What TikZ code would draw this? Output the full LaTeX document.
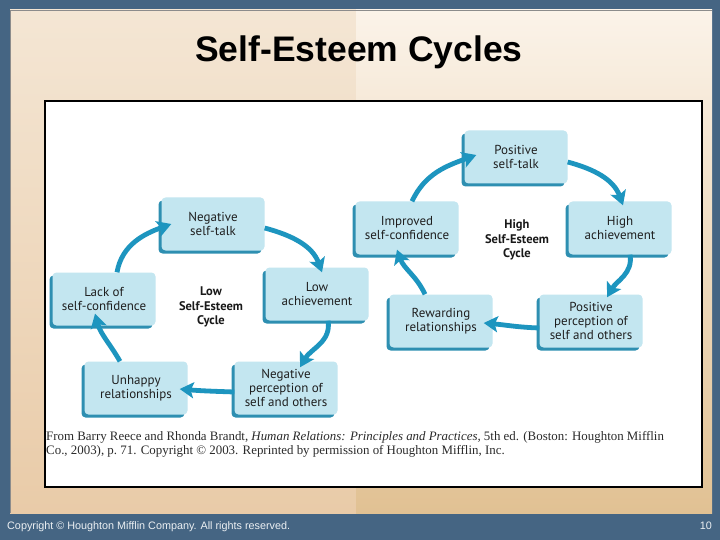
\documentclass[tikz,border=0pt]{standalone}
\usepackage{fontspec}
\setmainfont{Liberation Serif}
\newfontfamily\boxfont{PT Sans}
\newfontfamily\arialfont{Liberation Sans}
\usetikzlibrary{arrows.meta,shadows}
\definecolor{outerblue}{HTML}{456583}
\definecolor{tlc}{HTML}{F4E6D4}
\definecolor{blc}{HTML}{E9CBA8}
\definecolor{trc}{HTML}{FBF3E9}
\definecolor{brc}{HTML}{E1C193}
\definecolor{boxfill}{HTML}{C3E6F0}
\definecolor{boxshadow}{HTML}{2E8FB1}
\definecolor{arrowteal}{HTML}{1D95BF}
\definecolor{captext}{HTML}{2A2A2A}
\tikzset{
  cbox/.style={rounded corners=4pt, fill=boxfill, minimum width=103pt, minimum height=53pt,
    align=center, inner sep=1pt, text=black!88,
    font=\boxfont\fontsize{13}{14}\selectfont,
    drop shadow={shadow xshift=-3pt, shadow yshift=-3pt, fill=boxshadow, opacity=1}},
  ctitle/.style={align=center, text=black!90, font=\boxfont\bfseries\fontsize{12.5}{14.5}\selectfont},
  cyc/.style={line width=4.8pt, draw=arrowteal, -{Stealth[length=14pt,width=16pt,inset=3pt]}},
  captxt/.style={anchor=base west, inner sep=0pt, text=captext, font=\fontsize{12.9}{14}\selectfont}
}
\begin{document}
\begin{tikzpicture}[x=1pt,y=1pt]
\useasboundingbox (0,0) rectangle (720,-540);
\fill[outerblue] (0,0) rectangle (720,-540);
\fill[top color=tlc, bottom color=blc] (10,-10) rectangle (356,-513);
\fill[top color=trc, bottom color=brc] (356,-10) rectangle (712,-513);
\draw[black!45, line width=0.6pt] (10,-513) -- (10,-10) -- (712,-10);
\draw[black, line width=2pt, fill=white] (45,-101) rectangle (702,-487);

\node[anchor=base, inner sep=0pt, font=\arialfont\bfseries\fontsize{35.5}{40}\selectfont] (title) at (359,-62) {Self-Esteem Cycles};

% Low self-esteem cycle
\node[cbox] (ntalk) at (213,-224) {Negative\\self-talk};
\node[cbox] (lack) at (104,-299) {Lack of\\self-confidence};
\node[cbox] (lowach) at (317,-294) {Low\\achievement};
\node[cbox] (unhappy) at (136,-388) {Unhappy\\relationships};
\node[cbox] (negperc) at (286,-388) {Negative\\perception of\\self and others};
\node[ctitle] (lowc) at (211,-307) {Low\\Self-Esteem\\Cycle};

\draw[cyc] ([xshift=13pt]lack.north) to[out=80,in=200] ([xshift=10pt]ntalk.west);
\draw[cyc] ([yshift=-4pt]ntalk.east) to[out=-15,in=110] ([xshift=5pt,yshift=-5pt]lowach.north);
\draw[cyc] ([xshift=11pt]lowach.south) to[out=-80,in=60] ([xshift=14pt,yshift=-6pt]negperc.north);
\draw[cyc] ([yshift=-4pt]negperc.west) to[out=178,in=-5] ([xshift=-8pt,yshift=-1pt]unhappy.east);
\draw[cyc] ([xshift=-16pt]unhappy.north) to[out=120,in=-75] ([xshift=-9pt,yshift=12pt]lack.south);

% High self-esteem cycle
\node[cbox] (postalk) at (516,-157) {Positive\\self-talk};
\node[cbox] (improved) at (407,-228) {Improved\\self-confidence};
\node[cbox] (highach) at (620,-228) {High\\achievement};
\node[cbox] (reward) at (441,-321) {Rewarding\\relationships};
\node[cbox] (posperc) at (591,-321) {Positive\\perception of\\self and others};
\node[ctitle] (highc) at (517,-240) {High\\Self-Esteem\\Cycle};

\draw[cyc] ([xshift=5pt]improved.north) to[out=65,in=200] ([xshift=12pt,yshift=2pt]postalk.west);
\draw[cyc] ([yshift=-5pt]postalk.east) to[out=-15,in=110] ([xshift=3pt,yshift=-4pt]highach.north);
\draw[cyc] ([xshift=10pt]highach.south) to[out=-80,in=60] ([xshift=16pt,yshift=-3pt]posperc.north);
\draw[cyc] ([yshift=-7pt]posperc.west) to[out=178,in=-5] ([xshift=-9pt,yshift=-2pt]reward.east);
\draw[cyc] ([xshift=-16pt]reward.north) to[out=115,in=-70] ([xshift=-10pt,yshift=5pt]improved.south);

% caption
\node[captxt] (cap1) at (46,-440) {From Barry Reece and Rhonda Brandt, \textit{Human Relations: Principles and Practices,} 5th ed. (Boston: Houghton Mifflin};
\node[captxt] (cap2) at (46,-454) {Co., 2003), p.~71. Copyright \textcopyright{} 2003. Reprinted by permission of Houghton Mifflin, Inc.};

% footer
\node[anchor=base west, inner sep=0pt, text=white!90!outerblue, font=\arialfont\fontsize{10.8}{12}\selectfont] (copy) at (7,-529) {Copyright \textcopyright{} Houghton Mifflin Company. All rights reserved.};
\node[anchor=base east, inner sep=0pt, text=white!90!outerblue, font=\arialfont\fontsize{10.8}{12}\selectfont] (pnum) at (712,-529) {10};
\end{tikzpicture}
\end{document}
